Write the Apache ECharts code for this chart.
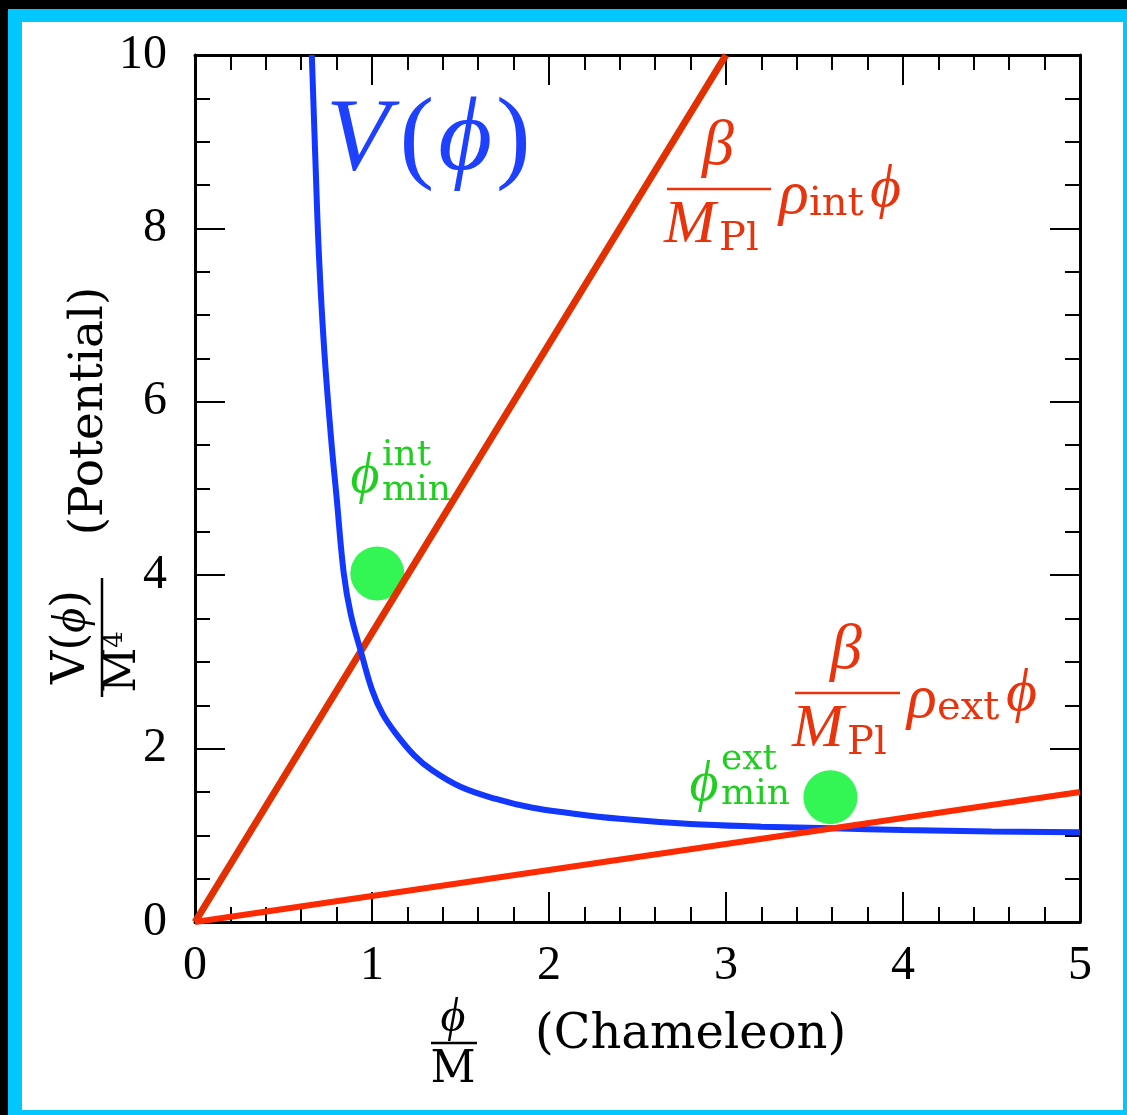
<!DOCTYPE html>
<html>
<head>
<meta charset="utf-8">
<script src="https://cdn.jsdelivr.net/npm/echarts@6/dist/echarts.min.js"></script>
<style>
html,body{margin:0;padding:0;background:#000;width:1127px;height:1115px;overflow:hidden;}
#frame{position:absolute;left:8px;top:9px;width:1119px;height:1106px;background:#00c8ff;}
#inner{position:absolute;left:22px;top:22px;width:1101px;height:1088px;background:#fff;}
#chart{position:absolute;left:0;top:0;width:1127px;height:1115px;}
</style>
</head>
<body>
<div id="frame"></div>
<div id="inner"></div>
<div id="chart"></div>
<script>
// ---- data ----
const phi = [0.66, 0.68, 0.70, 0.73, 0.77, 0.80, 0.84, 0.88, 0.94, 1.00, 1.06, 1.14, 1.24, 1.34, 1.50, 1.70, 1.90, 2.10, 2.40, 2.80, 3.20, 3.60, 4.00, 4.50, 5.00];
const potential = [10.0, 8.8, 7.7, 6.6, 5.55, 4.9, 4.03, 3.55, 3.10, 2.68, 2.40, 2.16, 1.92, 1.75, 1.56, 1.42, 1.32, 1.26, 1.19, 1.13, 1.10, 1.08, 1.06, 1.045, 1.035];
const intLineX = [0, 3];
const intLineY = [0, 10];
const extLineX = [0, 5];
const extLineY = [0, 1.5];
const minimaX = [1.03, 3.59];
const minimaY = [4.02, 1.44];
const xTicks = [0, 1, 2, 3, 4, 5];
const yTicks = [0, 2, 4, 6, 8, 10];

const zip = (a, b) => a.map((v, i) => [v, b[i]]);
const SERIF = '"Liberation Serif","DejaVu Serif",serif';
const DSERIF = '"DejaVu Serif","Liberation Serif",serif';
const RED = '#e8330c';
const GREEN = '#1fcf1f';
const BLUE = '#1e40ff';

function txt(text, x, y, font, fill, align, rot) {
  return {type:'text', x:x, y:y, rotation: rot || 0, z: 100,
    style:{text:text, font:font, fill:fill, align: align || 'center', verticalAlign:'middle'}};
}
function hline(x1, x2, y, color) {
  return {type:'line', z:100, shape:{x1:x1, y1:y, x2:x2, y2:y}, style:{stroke:color, lineWidth:2.5}};
}
function vline(x, y1, y2, color) {
  return {type:'line', z:100, shape:{x1:x, y1:y1, x2:x, y2:y2}, style:{stroke:color, lineWidth:2.5}};
}

const axisCommon = {
  type:'value',
  axisLine:{show:true, onZero:false, lineStyle:{color:'#000', width:3}},
  axisTick:{show:true, inside:true, length:30, lineStyle:{color:'#000', width:2}},
  minorTick:{show:true, length:15, lineStyle:{color:'#000', width:2}},
  splitLine:{show:false},
  minorSplitLine:{show:false}
};

const chart = echarts.init(document.getElementById('chart'), null, {renderer:'canvas'});
const option = {
  backgroundColor:'transparent',
  animation:false,
  grid:{left:195, top:55, right:47, bottom:193, containLabel:false},
  xAxis:[
    Object.assign({}, axisCommon, {min:xTicks[0], max:xTicks[xTicks.length-1], interval:1, position:'bottom',
      minorTick:Object.assign({}, axisCommon.minorTick, {splitNumber:5}),
      axisLabel:{show:true, fontSize:48, fontFamily:SERIF, color:'#000', margin:20}}),
    Object.assign({}, axisCommon, {min:xTicks[0], max:xTicks[xTicks.length-1], interval:1, position:'top',
      minorTick:Object.assign({}, axisCommon.minorTick, {splitNumber:5}),
      axisLabel:{show:false}})
  ],
  yAxis:[
    Object.assign({}, axisCommon, {min:yTicks[0], max:yTicks[yTicks.length-1], interval:2, position:'left',
      minorTick:Object.assign({}, axisCommon.minorTick, {splitNumber:4}),
      axisLabel:{show:true, fontSize:48, fontFamily:SERIF, color:'#000', margin:28}}),
    Object.assign({}, axisCommon, {min:yTicks[0], max:yTicks[yTicks.length-1], interval:2, position:'right',
      minorTick:Object.assign({}, axisCommon.minorTick, {splitNumber:4}),
      axisLabel:{show:false}})
  ],
  series:[
    {type:'scatter', name:'minima', data:zip(minimaX, minimaY), symbolSize:54, z:1,
      itemStyle:{color:'#33f553', opacity:1}},
    {type:'line', name:'int', data:zip(intLineX, intLineY), showSymbol:false, z:2,
      lineStyle:{color:'#e23000', width:7}},
    {type:'line', name:'V', data:zip(phi, potential), showSymbol:false, smooth:0.4, z:3,
      lineStyle:{color:'#1238ff', width:6}},
    {type:'line', name:'ext', data:zip(extLineX, extLineY), showSymbol:false, z:4,
      lineStyle:{color:'#ff2a00', width:6}}
  ],
  graphic:[
    // big V(phi)
    {type:'text', x:326, y:142, z:100, style:{
      text:'{v|V}{p|(}{f|\u03D5}{p|)}', verticalAlign:'middle', align:'left',
      rich:{
        v:{font:'italic 104px '+SERIF, fill:BLUE, padding:[0,6,0,0]},
        p:{font:'104px '+SERIF, fill:BLUE, padding:[0,4,0,4]},
        f:{font:'italic 104px '+SERIF, fill:BLUE}
      }}},
    // red fraction (int)
    txt('\u03B2', 718, 147, 'italic 64px '+SERIF, RED),
    hline(667, 771, 189, RED),
    txt('M', 664, 226, 'italic 62px '+SERIF, RED, 'left'),
    txt('Pl', 719, 240, '40px '+DSERIF, RED, 'left'),
    txt('\u03C1', 779, 197, 'italic 62px '+SERIF, RED, 'left'),
    txt('int', 809, 205, '40px '+DSERIF, RED, 'left'),
    txt('\u03D5', 870, 190, 'italic 60px '+SERIF, RED, 'left'),
    // red fraction (ext)
    txt('\u03B2', 846, 651, 'italic 64px '+SERIF, RED),
    hline(795, 900, 693, RED),
    txt('M', 792, 730, 'italic 62px '+SERIF, RED, 'left'),
    txt('Pl', 847, 744, '40px '+DSERIF, RED, 'left'),
    txt('\u03C1', 907, 701, 'italic 62px '+SERIF, RED, 'left'),
    txt('ext', 937, 709, '40px '+DSERIF, RED, 'left'),
    txt('\u03D5', 1006, 694, 'italic 60px '+SERIF, RED, 'left'),
    // green labels
    txt('\u03D5', 365, 477, 'italic 56px '+SERIF, GREEN),
    txt('int', 382, 456, '36px '+DSERIF, GREEN, 'left'),
    txt('min', 382, 491, '36px '+DSERIF, GREEN, 'left'),
    txt('\u03D5', 704, 785, 'italic 56px '+SERIF, GREEN),
    txt('ext', 721, 760, '36px '+DSERIF, GREEN, 'left'),
    txt('min', 721, 795, '36px '+DSERIF, GREEN, 'left'),
    // x axis title
    txt('\u03D5', 453, 1018, 'italic 48px '+SERIF, '#000'),
    hline(431, 477, 1043, '#000'),
    txt('M', 453, 1071, '44px '+DSERIF, '#000'),
    txt('(Chameleon)', 535, 1036, '48px '+DSERIF, '#000', 'left'),
    // y axis title (rotated)
    {type:'text', x:72, y:637, rotation:Math.PI/2, z:100, style:{
      text:'{a|V(}{f|\u03D5}{a|)}', align:'center', verticalAlign:'middle',
      rich:{a:{font:'46px '+DSERIF, fill:'#000'}, f:{font:'italic 48px '+SERIF, fill:'#000'}}}},
    vline(102, 578, 697, '#000'),
    {type:'text', x:124, y:662, rotation:Math.PI/2, z:100, style:{
      text:'{m|M}{s|4}', align:'center', verticalAlign:'middle',
      rich:{m:{font:'44px '+DSERIF, fill:'#000'}, s:{font:'26px '+DSERIF, fill:'#000', padding:[0,0,18,0]}}}},
    txt('(Potential)', 90, 411, '47px '+DSERIF, '#000', 'center', Math.PI/2)
  ]
};
chart.setOption(option);
</script>
</body>
</html>
